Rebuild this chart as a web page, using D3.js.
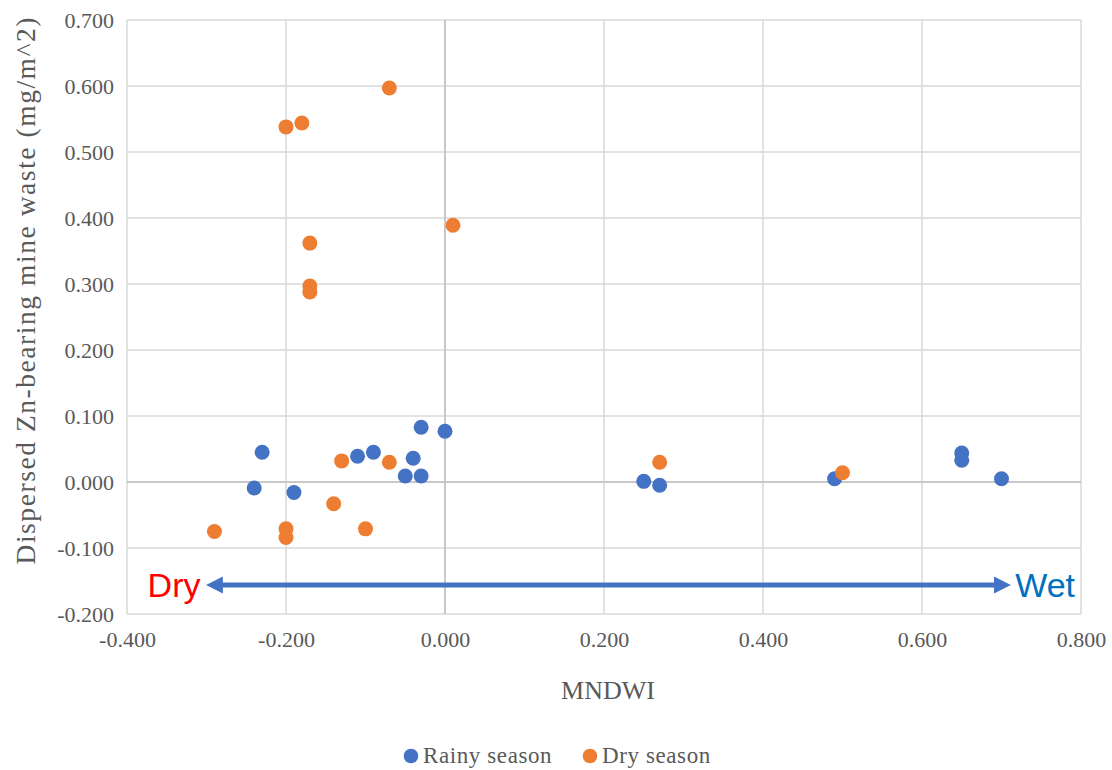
<!DOCTYPE html>
<html><head><meta charset="utf-8">
<script src="https://cdn.jsdelivr.net/npm/d3@7"></script>
<style>
html,body{margin:0;padding:0;background:#fff;}
svg{display:block;}
</style>
</head><body>
<svg id="chart" width="1112" height="770"></svg>
<script>
// ---- data ----
const seriesNames = ["Rainy season", "Dry season"];
const rainyX = [-0.23, -0.24, -0.19, -0.11, -0.09, -0.04, -0.05, -0.03, -0.03, 0.00, 0.25, 0.27, 0.49, 0.65, 0.65, 0.70];
const rainyY = [0.045, -0.009, -0.016, 0.039, 0.045, 0.036, 0.009, 0.009, 0.083, 0.077, 0.001, -0.005, 0.005, 0.044, 0.033, 0.005];
const dryX = [-0.29, -0.20, -0.20, -0.14, -0.10, -0.13, -0.07, -0.07, -0.20, -0.18, 0.01, -0.17, -0.17, -0.17, 0.27, 0.50];
const dryY = [-0.075, -0.071, -0.084, -0.033, -0.071, 0.032, 0.030, 0.597, 0.538, 0.544, 0.389, 0.362, 0.297, 0.288, 0.030, 0.014];
const xTicks = [-0.4, -0.2, 0.0, 0.2, 0.4, 0.6, 0.8];
const yTicks = [-0.2, -0.1, 0.0, 0.1, 0.2, 0.3, 0.4, 0.5, 0.6, 0.7];
const xTitle = "MNDWI";
const yTitle = "Dispersed Zn-bearing mine waste (mg/m^2)";
const arrowFrom = [-0.30, -0.156];
const arrowTo = [0.711, -0.156];
const arrowLabels = ["Dry", "Wet"];

const colors = ["#4472c4", "#ed7d31"];
const textGray = "#595959";

const svg = d3.select("#chart");
const L = 127, R = 1081, T = 20, B = 614;
const x = d3.scaleLinear().domain([-0.4, 0.8]).range([L, R]);
const y = d3.scaleLinear().domain([-0.2, 0.7]).range([B, T]);

// gridlines
const grid = svg.append("g");
grid.selectAll("line.v").data(xTicks).enter().append("line")
  .attr("x1", d => x(d)).attr("x2", d => x(d)).attr("y1", T).attr("y2", B)
  .attr("stroke", "#d9d9d9").attr("stroke-width", 1.5);
grid.selectAll("line.h").data(yTicks).enter().append("line")
  .attr("y1", d => y(d)).attr("y2", d => y(d)).attr("x1", L).attr("x2", R)
  .attr("stroke", "#d9d9d9").attr("stroke-width", 1.5);
// zero axes
svg.append("line").attr("x1", x(0)).attr("x2", x(0)).attr("y1", T).attr("y2", B)
  .attr("stroke", "#bfbfbf").attr("stroke-width", 1.5);
svg.append("line").attr("x1", L).attr("x2", R).attr("y1", y(0)).attr("y2", y(0))
  .attr("stroke", "#bfbfbf").attr("stroke-width", 1.5);

// axes with d3
const fmt = d3.format(".3f");
const tf = d => fmt(d).replace("−", "-");
const yAxis = svg.append("g").attr("transform", `translate(${L},0)`)
  .call(d3.axisLeft(y).tickValues(yTicks).tickFormat(tf).tickSize(0).tickPadding(13));
const xAxis = svg.append("g").attr("transform", `translate(0,${B})`)
  .call(d3.axisBottom(x).tickValues(xTicks).tickFormat(tf).tickSize(0).tickPadding(22));
[yAxis, xAxis].forEach(a => {
  a.select(".domain").remove();
  a.attr("font-family", null).attr("font-size", null);
  a.selectAll("text")
    .style("font-family", "'Liberation Serif', serif")
    .style("font-size", "22px").style("fill", textGray);
});
yAxis.selectAll("text").attr("dy", "0.34em");
xAxis.selectAll("text").attr("dy", "0.5em");

// axis titles
svg.append("text").attr("x", (L + R) / 2 + 4).attr("y", 699)
  .attr("text-anchor", "middle")
  .style("font-family", "'Liberation Serif', serif")
  .style("font-size", "26px").style("fill", textGray).text(xTitle);
svg.append("text").attr("transform", "translate(35,291) rotate(-90)")
  .attr("text-anchor", "middle")
  .style("font-family", "'Liberation Serif', serif")
  .style("font-size", "27.5px").style("fill", textGray)
  .attr("textLength", 547).attr("lengthAdjust", "spacing").text(yTitle);

// arrow
const defs = svg.append("defs");
["s", "e"].forEach(k => {
  defs.append("marker").attr("id", "ah" + k)
    .attr("viewBox", "0 0 10 10").attr("refX", 2).attr("refY", 5)
    .attr("markerWidth", 3.4).attr("markerHeight", 3.6)
    .attr("orient", "auto-start-reverse").attr("markerUnits", "strokeWidth")
    .append("path").attr("d", "M0,0 L10,5 L0,10 Z").attr("fill", "#4472c4");
});
const ax1 = x(arrowFrom[0]), ax2 = x(arrowTo[0]), ay = y(arrowFrom[1]);
svg.append("line").attr("x1", ax1 + 13).attr("x2", ax2 - 13).attr("y1", ay).attr("y2", ay)
  .attr("stroke", "#4472c4").attr("stroke-width", 5)
  .attr("marker-start", "url(#ahs)").attr("marker-end", "url(#ahe)");
svg.append("text").attr("x", ax1 - 6).attr("y", ay + 12).attr("text-anchor", "end")
  .style("font-family", "'Liberation Sans', sans-serif").style("font-size", "34px")
  .style("fill", "#ff0000").text(arrowLabels[0]);
svg.append("text").attr("x", ax2 + 5).attr("y", ay + 12).attr("text-anchor", "start")
  .style("font-family", "'Liberation Sans', sans-serif").style("font-size", "34px")
  .style("fill", "#0070c0").text(arrowLabels[1]);

// points
const rainy = rainyX.map((v, i) => ({x: v, y: rainyY[i]}));
const dry = dryX.map((v, i) => ({x: v, y: dryY[i]}));
[rainy, dry].forEach((s, si) => {
  svg.append("g").selectAll("circle").data(s).enter().append("circle")
    .attr("cx", d => x(d.x)).attr("cy", d => y(d.y)).attr("r", 7.5)
    .attr("fill", colors[si]);
});

// legend
const legX = [411, 590];
seriesNames.forEach((n, i) => {
  svg.append("circle").attr("cx", legX[i]).attr("cy", 756).attr("r", 7.3).attr("fill", colors[i]);
  svg.append("text").attr("x", legX[i] + 12).attr("y", 763)
    .style("font-family", "'Liberation Serif', serif").style("font-size", "23px")
    .style("letter-spacing", "0.6px")
    .style("fill", textGray).text(n);
});
</script>
</body></html>
